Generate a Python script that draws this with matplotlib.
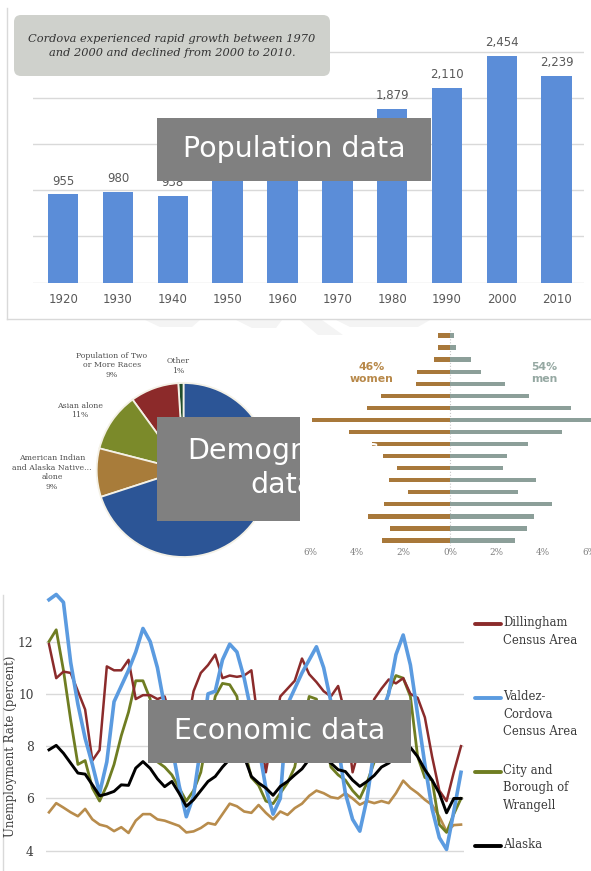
import matplotlib
matplotlib.use('Agg')
import matplotlib.pyplot as plt
from matplotlib.patches import Rectangle, FancyBboxPatch, Polygon
from matplotlib.lines import Line2D
import numpy as np

W, H, DPI = 591, 871, 100

# ---------------- data ----------------
pop_years = ['1920', '1930', '1940', '1950', '1960', '1970', '1980', '1990', '2000', '2010']
pop_values = [955, 980, 938, 1165, 1128, 1164, 1879, 2110, 2454, 2239]
pop_label_shown = [True, True, True, False, False, False, True, True, True, True]
pop_note = "Cordova experienced rapid growth between 1970\nand 2000 and declined from 2000 to 2010."

race_labels = ['Other', 'Population of Two\nor More Races', 'Asian alone',
               'American Indian\nand Alaska Native...\nalone', 'White alone']
race_shares = [1, 9, 11, 9, 70]

# age pyramid rows, oldest (top) to youngest (bottom), percent of population
age_women = [0.53, 0.53, 0.67, 1.43, 1.46, 2.97, 3.58, 5.95, 4.34, 3.34,
             2.90, 2.29, 2.61, 1.79, 2.82, 3.51, 2.58, 2.94]
age_men = [0.17, 0.26, 0.90, 1.33, 2.37, 3.41, 5.19, 6.05, 4.83, 3.35,
           2.44, 2.29, 3.68, 2.92, 4.37, 3.61, 3.31, 2.80]
sex_labels = ['women', 'men']
sex_shares = [46, 54]
pyr_ticks = [-6, -4, -2, 0, 2, 4, 6]
pyr_ticklabels = ['6%', '4%', '2%', '0%', '2%', '4%', '6%']

# monthly unemployment rate (percent)
dillingham = [11.9, 10.6, 10.85, 10.8, 10.1, 9.4, 7.45, 7.85, 11.05, 10.9,
              10.9, 11.3, 9.8, 9.95, 9.95, 9.8, 9.9, 8.9, 7.9, 8.6,
              10.1, 10.8, 11.1, 11.5, 10.6, 10.7, 10.65, 10.7, 10.9, 8.8,
              7.0, 8.6, 9.9, 10.2, 10.5, 11.35, 10.75, 10.45, 10.1, 9.9,
              10.3, 9.2, 7.0, 8.0, 9.0, 9.8, 10.2, 10.55, 10.4, 10.6,
              10.0, 9.85, 9.1, 7.6, 6.3, 5.9, 7.0, 8.0]
valdez = [13.6, 13.8, 13.5, 11.2, 9.6, 8.3, 7.3, 6.2, 7.4, 9.7,
          10.3, 10.9, 11.6, 12.5, 12.0, 11.0, 9.5, 8.0, 6.5, 5.3,
          6.1, 8.0, 10.0, 10.1, 11.3, 11.9, 11.6, 10.6, 9.3, 8.0,
          6.4, 5.4, 6.0, 9.6, 10.2, 10.8, 11.3, 11.8, 11.0, 9.7,
          8.0, 6.2, 5.2, 4.75, 6.0, 7.9, 9.3, 10.0, 11.5, 12.25,
          11.1, 9.2, 7.3, 5.6, 4.5, 4.05, 5.5, 7.0]
wrangell = [12.0, 12.45, 10.9, 9.0, 7.3, 7.45, 6.4, 5.9, 6.5, 7.3,
            8.4, 9.3, 10.5, 10.5, 9.8, 7.4, 7.2, 6.9, 6.4, 5.9,
            6.3, 7.0, 8.5, 9.9, 10.4, 10.35, 9.9, 7.9, 6.8, 6.5,
            5.9, 5.8, 6.2, 6.6, 7.2, 8.7, 9.9, 9.8, 8.6, 7.2,
            6.9, 6.7, 6.3, 6.0, 6.6, 7.4, 8.8, 10.1, 10.7, 10.6,
            9.9, 7.6, 6.8, 6.7, 5.0, 4.7, 5.4, 6.0]
alaska = [7.86, 8.03, 7.73, 7.35, 6.97, 6.93, 6.52, 6.1, 6.17, 6.27,
          6.52, 6.5, 7.16, 7.41, 7.15, 6.75, 6.45, 6.65, 6.2, 5.7,
          5.95, 6.3, 6.65, 6.84, 7.2, 7.5, 7.7, 7.6, 6.84, 6.59,
          6.4, 6.12, 6.46, 6.65, 6.9, 7.13, 7.5, 7.7, 7.6, 7.35,
          7.1, 7.03, 6.7, 6.46, 6.65, 6.88, 7.2, 7.35, 7.6, 7.9,
          7.95, 7.6, 7.1, 6.7, 6.2, 5.45, 6.0, 6.0]
other_area = [5.47, 5.82, 5.65, 5.47, 5.32, 5.6, 5.2, 5.0, 4.93, 4.75,
              4.9, 4.68, 5.15, 5.4, 5.4, 5.2, 5.15, 5.05, 4.95, 4.7,
              4.74, 4.87, 5.06, 5.0, 5.4, 5.8, 5.7, 5.5, 5.45, 5.75,
              5.45, 5.2, 5.5, 5.37, 5.63, 5.8, 6.1, 6.3, 6.2, 6.05,
              6.0, 6.2, 6.0, 5.76, 5.9, 5.82, 5.9, 5.82, 6.2, 6.68,
              6.4, 6.2, 5.95, 5.75, 5.3, 4.74, 4.98, 5.0]
econ_names = ['Dillingham\nCensus Area', 'Valdez-\nCordova\nCensus Area',
              'City and\nBorough of\nWrangell', 'Alaska']
econ_yticks = [4, 6, 8, 10, 12]
econ_ylabel = 'Unemployment Rate (percent)'

overlay_titles = ['Population data', 'Demographic\ndata', 'Economic data']

# ---------------- figure ----------------
fig = plt.figure(figsize=(W / DPI, H / DPI), dpi=DPI)
fig.patch.set_facecolor('white')


def px_axes(x0, y0, x1, y1, **kw):
    return fig.add_axes([x0 / W, 1 - y1 / H, (x1 - x0) / W, (y1 - y0) / H], **kw)


GRID = '#d9d9d9'

# ---- population bar chart ----
axp = px_axes(33, 5.5, 584, 282.7)
bars = axp.bar(range(len(pop_values)), pop_values, width=0.556, color='#5b8dd8', zorder=3)
axp.set_xlim(-0.55, len(pop_values) - 0.5)
axp.set_ylim(0, 3000)
axp.set_yticks([0, 500, 1000, 1500, 2000, 2500])
axp.yaxis.grid(True, color=GRID, lw=1)
axp.set_axisbelow(True)
axp.tick_params(axis='y', length=0, labelleft=False)
axp.set_xticks(range(len(pop_years)), pop_years)
axp.tick_params(axis='x', length=0, pad=7.5, labelsize=8.5, labelcolor='#595959')
for s in axp.spines.values():
    s.set_visible(False)
axp.bar_label(bars, labels=[f'{v:,}' if show else '' for v, show in zip(pop_values, pop_label_shown)],
              padding=5, fontsize=8.5, color='#595959')

# ---- pie chart ----
cx, cy, r = 183.7, 470, 87
axc = px_axes(cx - r, cy - r, cx + r, cy + r)
axc.pie(race_shares, colors=['#1f4d2c', '#8c2a2a', '#7b8a2a', '#a87c3a', '#2c5596'],
        startangle=90, counterclock=True, radius=1,
        wedgeprops=dict(edgecolor='#f4f1e6', linewidth=1.3))
axc.set_xlim(-1, 1)
axc.set_ylim(-1, 1)

# ---- age pyramid ----
c0, ppu = 450, 23.25
axa = px_axes(c0 - 6.62 * ppu, 329.7, c0 + 6.62 * ppu, 546.3)
n = len(age_women)
ypos = np.arange(n)[::-1]
axa.barh(ypos, [-v for v in age_women], height=0.38, color='#a8783a')
axa.barh(ypos, age_men, height=0.38, color='#8c9f99')
axa.axvline(0, color='#c8c8c8', lw=0.8, ls=':', zorder=0)
axa.set_xlim(-6.62, 6.62)
axa.set_ylim(-0.5, n - 0.5)
axa.set_xticks(pyr_ticks, pyr_ticklabels)
axa.tick_params(axis='x', length=0, pad=1.5, labelsize=6.3, labelcolor='#7f7f7f')
for lab in axa.get_xticklabels():
    lab.set_family('DejaVu Serif')
axa.set_yticks([])
for s in axa.spines.values():
    s.set_visible(False)

# ---- unemployment lines ----
axe = px_axes(46.1, 581.4, 463.9, 861.2)
x = np.arange(len(alaska))
axe.plot(x, other_area, color='#b88c4c', lw=1.9, zorder=3)
axe.plot(x, wrangell, color='#6f7d22', lw=2.0, zorder=4)
axe.plot(x, dillingham, color='#8b2b2b', lw=1.8, zorder=5)
axe.plot(x, valdez, color='#5b9be0', lw=2.6, zorder=6)
axe.plot(x, alaska, color='black', lw=2.1, zorder=7)
axe.set_xlim(-0.4, len(x) - 1 + 0.4)
axe.set_ylim(3.6, 14.3)
axe.set_yticks(econ_yticks)
axe.yaxis.grid(True, color=GRID, lw=1)
axe.set_axisbelow(True)
axe.tick_params(axis='y', length=0, pad=9, labelsize=8.8, labelcolor='#3f3f3f')
for lab in axe.get_yticklabels():
    lab.set_family('DejaVu Serif')
axe.set_xticks([])
for s in axe.spines.values():
    s.set_visible(False)

# ---------------- overlay (pixel coordinates) ----------------
ov = fig.add_axes([0, 0, 1, 1])
ov.set_xlim(0, W)
ov.set_ylim(H, 0)
ov.axis('off')
ov.set_zorder(10)

# faint frame lines
ov.plot([6.5, 6.5], [8, 319], color=GRID, lw=1)
ov.plot([6.5, W], [319, 319], color=GRID, lw=1)
ov.plot([2.7, 2.7], [595, H], color=GRID, lw=1)

# faint watermark fragments
for poly in [[(145, 320), (200, 320), (192, 327), (160, 327)],
             [(236, 320), (282, 320), (276, 328), (252, 328)],
             [(300, 320), (322, 320), (343, 335), (318, 335)],
             [(336, 320), (430, 320), (418, 327), (350, 327)]]:
    ov.add_patch(Polygon(poly, closed=True, color='#f4f4f4', lw=0, zorder=0))

# note box
rr = 7
ov.add_patch(FancyBboxPatch((14 + rr, 15 + rr), 316 - 2 * rr, 61 - 2 * rr,
                            boxstyle=f'round,pad={rr}', fc='#cfd1cc', ec='none'))
ov.text(172, 46, pop_note, ha='center', va='center', fontsize=8.2,
        family='DejaVu Serif', style='italic', color='#333333', linespacing=1.6)

# pie labels
pie_lab_font = dict(fontsize=5.6, family='DejaVu Serif', color='#505050',
                    ha='center', va='center', linespacing=1.25)
pie_lab_pos = {0: (178, 366), 1: (112, 365), 2: (80, 410.5), 3: (52, 472.5)}
for i, (px, py) in pie_lab_pos.items():
    ov.text(px, py, f'{race_labels[i]}\n{race_shares[i]}%', **pie_lab_font)

# pyramid sex labels
ov.text(371.7, 373, f'{sex_shares[0]}%\n{sex_labels[0]}', ha='center', va='center',
        fontsize=7.8, fontweight='bold', color='#b8894a', linespacing=1.3)
ov.text(544, 373, f'{sex_shares[1]}%\n{sex_labels[1]}', ha='center', va='center',
        fontsize=7.8, fontweight='bold', color='#95a8a2', linespacing=1.3)

# unemployment y label
ov.text(10.5, 746.7, econ_ylabel, rotation=90, ha='center', va='center',
        fontsize=8.5, family='DejaVu Serif', color='#404040')

# legend
leg_colors = ['#8b2b2b', '#5b9be0', '#6f7d22', 'black']
leg_y = [624.3, 698.3, 771.7, 845.7]
for name, col, yy in zip(econ_names, leg_colors, leg_y):
    ov.add_line(Line2D([475, 501], [yy, yy], color=col, lw=2.8, solid_capstyle='round'))
    ov.text(503, yy - 8, name, ha='left', va='top', fontsize=8.4,
            family='DejaVu Serif', color='#3a3a3a', linespacing=1.45)

# grey title boxes
BOX = '#808080'
title_font = dict(color='white', fontsize=20.5, family='DejaVu Sans',
                  ha='center', va='center')
ov.add_patch(Rectangle((157, 118), 274, 63, color=BOX, lw=0))
ov.text(294, 149, overlay_titles[0], **title_font)

demo_rect = Rectangle((157, 417), 143, 104, color=BOX, lw=0)
ov.add_patch(demo_rect)
t = ov.text(283, 468, overlay_titles[1], linespacing=1.3, **title_font)
t.set_clip_path(demo_rect)

ov.add_patch(Rectangle((148, 700), 263, 63, color=BOX, lw=0))
ov.text(279.5, 731, overlay_titles[2], **title_font)

fig.savefig('out.png', dpi=DPI)
